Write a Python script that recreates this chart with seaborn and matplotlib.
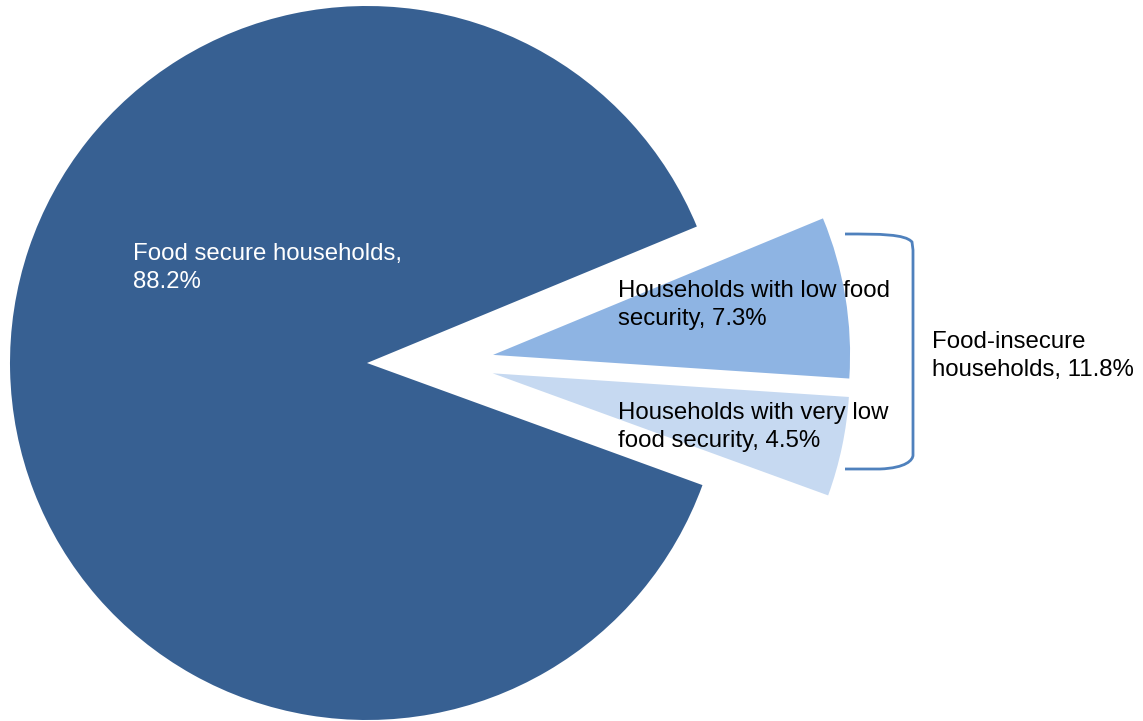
import matplotlib
matplotlib.use("Agg")
import matplotlib.pyplot as plt
import seaborn as sns
from matplotlib.path import Path
from matplotlib.patches import PathPatch

# ---- data ----
categories = ["Households with very low food security",
              "Households with low food security",
              "Food secure households"]
values = [4.5, 7.3, 88.2]
group_label = "Food-insecure\nhouseholds, 11.8%"

colors = ["#C6D9F1", "#8EB4E3", "#376092"]

sns.set_theme(style="white")
plt.rcParams['font.family'] = ['Liberation Sans', 'DejaVu Sans']

W, H = 1143, 721
fig = plt.figure(figsize=(W / 100, H / 100), dpi=100)
ax = fig.add_axes([0, 0, 1, 1])

R = 357.0              # pie radius in pixels
cx, cy = 367, H - 363  # pie center in pixels

# main slice (food secure)
ax.pie(values, colors=["none", "none", colors[2]], startangle=-20, counterclock=True,
       wedgeprops=dict(linewidth=0))
# food-insecure slices, pulled out to the right
ax.pie(values, colors=[colors[0], colors[1], "none"], startangle=-20, counterclock=True,
       center=(0.215, 0), explode=[0.14, 0.14, 0], wedgeprops=dict(linewidth=0))
# map pixel frame onto radius units
ax.set_xlim(-cx / R, (W - cx) / R)
ax.set_ylim(-cy / R, (H - cy) / R)
ax.set_aspect('equal')
ax.axis('off')

def px(x, y):
    return ((x - cx) / R, ((H - y) - cy) / R)

fs = 17.3
ls = 1.38
ax.text(*px(133, 288), f"Food secure households,\n{values[2]}%", color="white",
        fontsize=fs, ha="left", va="baseline", linespacing=ls)
ax.text(*px(618, 325), f"Households with low food\nsecurity, {values[1]}%", color="black",
        fontsize=fs, ha="left", va="baseline", linespacing=ls)
ax.text(*px(618, 447), f"Households with very low\nfood security, {values[0]}%", color="black",
        fontsize=fs, ha="left", va="baseline", linespacing=ls)
ax.text(*px(932, 376), group_label, color="black",
        fontsize=fs, ha="left", va="baseline", linespacing=ls)

# bracket
pts = [(845, 234), (880, 234), (905, 234), (912, 242),
       (913, 250), (913, 455),
       (913, 460), (906, 468), (880, 469), (845, 469)]
verts = [px(x, y) for x, y in pts]
codes = [Path.MOVETO, Path.CURVE4, Path.CURVE4, Path.CURVE4,
         Path.LINETO, Path.LINETO,
         Path.CURVE4, Path.CURVE4, Path.CURVE4, Path.LINETO]
ax.add_patch(PathPatch(Path(verts, codes), fill=False, edgecolor="#4F81BD", linewidth=2))

fig.savefig("out.png", dpi=100)
